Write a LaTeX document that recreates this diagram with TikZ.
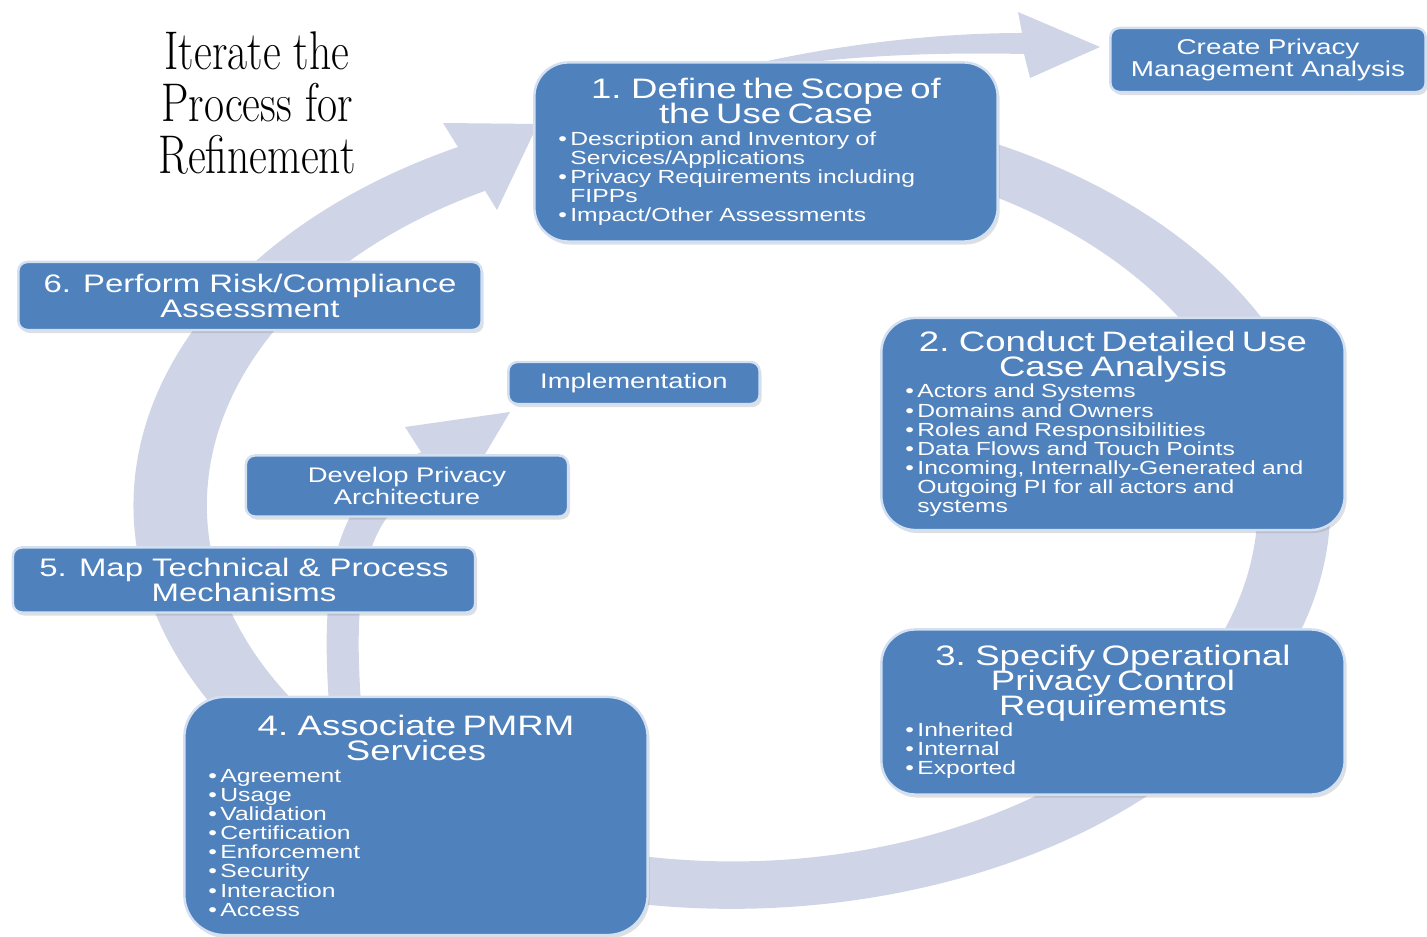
\documentclass[tikz,border=0pt]{standalone}
\usepackage{fontspec}
\newfontfamily\boxfont{Liberation Sans}[FakeStretch=1.3]
\newfontfamily\iterfont{Latin Modern Roman}[FakeStretch=0.8]
\usetikzlibrary{shadows}

\definecolor{stageblue}{RGB}{79,129,189}
\definecolor{stagerim}{RGB}{210,224,241}
\definecolor{ringgray}{RGB}{207,213,230}

% title lines and bullet lines inside the big boxes
\newcommand\tightlines{\setlength{\lineskiplimit}{-10pt}}
\newcommand\ttl[1]{{\centering\fontsize{8}{7.1}\selectfont #1\par}\vspace{0.6pt}}
\newcommand\bul[1]{\par\hangindent=0.12cm\hangafter=1\noindent\makebox[0.12cm][l]{\textbullet}{\let\\\newline #1}}

\tikzset{
  stage/.style={fill=stageblue, draw=stagerim, line width=0.7pt, rounded corners=0.34cm,
    text=white, align=left, inner xsep=0.24cm, inner ysep=0pt,
    font={\boxfont\fontsize{5.4}{5.45}\selectfont\tightlines},
    drop shadow={opacity=0.25, shadow xshift=0.02cm, shadow yshift=-0.03cm}},
  tab/.style={fill=stageblue, draw=stagerim, line width=0.7pt, rounded corners=0.09cm,
    text=white, align=center, inner sep=0pt,
    drop shadow={opacity=0.25, shadow xshift=0.02cm, shadow yshift=-0.03cm}},
  tabfont/.style={font={\boxfont\fontsize{#1}{#1}\selectfont\tightlines}}
}

\begin{document}
\begin{tikzpicture}[x=0.01cm, y=0.01cm]
\useasboundingbox (0,0) rectangle (1427,936);

% the big cycle
\fill[ringgray] (547,814)
  arc[start angle=108, end angle=-244, x radius=5.98cm, y radius=4.03cm]
  -- (502,751)
  arc[start angle=-244, end angle=108, x radius=5.25cm, y radius=3.56cm] -- cycle;
\fill[ringgray] (443,813) -- (538,812) -- (497,726) -- cycle;

% arrow to the analysis box
\fill[ringgray] (745,870) .. controls (830,890) and (930,903) .. (1022,903)
  -- (1018,924) -- (1100,889) -- (1030,858) -- (1024,882)
  .. controls (930,884) and (830,880) .. (745,864) -- cycle;

% inner arrow
\draw[ringgray, line width=0.32cm] (348,196) .. controls (335,336) and (340,436) .. (430,470);
\fill[ringgray] (405,509) -- (510,524) -- (455,431) -- cycle;

\node[font={\iterfont\fontsize{15.5}{14.8}\selectfont\tightlines}, align=center]
  (iterate) at (257,833) {Iterate the\\Process for\\Refinement};

\node[stage, text width=4.15cm, minimum height=1.79cm] (define) at (766,784)
  {\ttl{1. Define the Scope of\\the Use Case}
   \bul{Description and Inventory of\\Services/Applications}
   \bul{Privacy Requirements including\\FIPPs}
   \bul{Impact/Other Assessments}\par};

\node[stage, text width=4.15cm, minimum height=2.12cm] (analyse) at (1113,512)
  {\ttl{2. Conduct Detailed Use\\Case Analysis}
   \bul{Actors and Systems}
   \bul{Domains and Owners}
   \bul{Roles and Responsibilities}
   \bul{Data Flows and Touch Points}
   \bul{Incoming, Internally-Generated and\\Outgoing PI for all actors and\\systems}\par};

\node[stage, text width=4.15cm, minimum height=1.65cm] (specify) at (1113,224)
  {\ttl{3. Specify Operational\\Privacy Control\\Requirements}
   \bul{Inherited}
   \bul{Internal}
   \bul{Exported}\par};

\node[stage, rounded corners=0.4cm, text width=4.15cm, minimum height=2.38cm] (associate) at (416,120)
  {\ttl{4. Associate PMRM\\Services}
   \bul{Agreement}
   \bul{Usage}
   \bul{Validation}
   \bul{Certification}
   \bul{Enforcement}
   \bul{Security}
   \bul{Interaction}
   \bul{Access}\par};

\node[tab, tabfont=7.2, minimum width=4.62cm, minimum height=0.65cm] (mapmech) at (244,356)
  {5. Map Technical \& Process\\Mechanisms};
\node[tab, tabfont=7.2, minimum width=4.63cm, minimum height=0.68cm] (assess) at (250,640)
  {6. Perform Risk/Compliance\\Assessment};
\node[tab, tabfont=6.1, minimum width=3.15cm, minimum height=0.64cm] (create) at (1268,876)
  {Create Privacy\\Management Analysis};
\node[tab, tabfont=6, minimum width=3.22cm, minimum height=0.61cm] (develop) at (407,450)
  {Develop Privacy\\Architecture};
\node[tab, tabfont=6, minimum width=2.51cm, minimum height=0.42cm] (implement) at (634,553)
  {Implementation};

\end{tikzpicture}
\end{document}
